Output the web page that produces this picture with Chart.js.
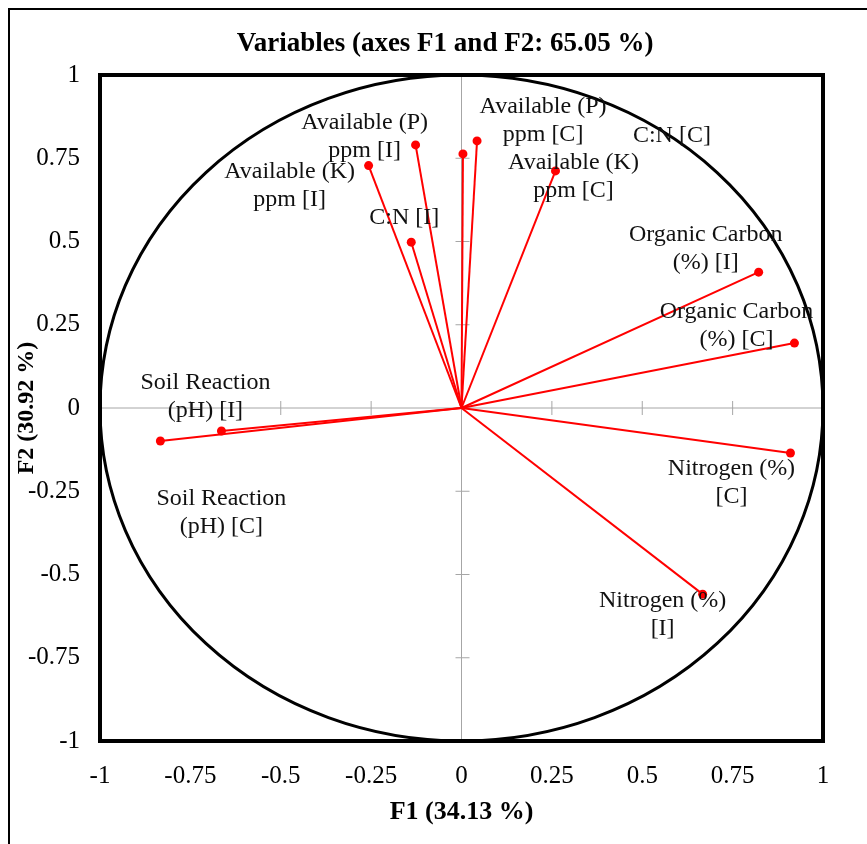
<!DOCTYPE html>
<html>
<head>
<meta charset="utf-8">
<script src="https://cdn.jsdelivr.net/npm/chart.js@4.4.1/dist/chart.umd.min.js"></script>
<style>
html, body { margin: 0; padding: 0; background: #fff; }
#wrap { width: 867px; height: 844px; position: relative; }
</style>
</head>
<body>
<div id="wrap"><canvas id="pca" width="867" height="844"></canvas></div>
<script>
// Variables du cercle des corrélations (F1 / F2)
const varNames = [
    'Available (P) ppm [I]', 'Available (K) ppm [I]', 'C:N [I]',
    'Available (P) ppm [C]', 'C:N [C]', 'Available (K) ppm [C]',
    'Organic Carbon (%) [I]', 'Organic Carbon (%) [C]',
    'Soil Reaction (pH) [I]', 'Soil Reaction (pH) [C]',
    'Nitrogen (%) [C]', 'Nitrogen (%) [I]'
];
const f1Values = [-0.127, -0.257, -0.139, 0.043, 0.004, 0.260, 0.822, 0.921, -0.664, -0.833, 0.910, 0.667];
const f2Values = [0.790, 0.728, 0.498, 0.802, 0.763, 0.712, 0.408, 0.195, -0.069, -0.099, -0.135, -0.559];

// Texte des étiquettes (une ligne par élément)
const labelLines = [
    ['Available (P)', 'ppm [I]'], ['Available (K)', 'ppm [I]'], ['C:N [I]'],
    ['Available (P)', 'ppm [C]'], ['C:N [C]'], ['Available (K)', 'ppm [C]'],
    ['Organic Carbon', '(%) [I]'], ['Organic Carbon', '(%) [C]'],
    ['Soil Reaction', '(pH) [I]'], ['Soil Reaction', '(pH) [C]'],
    ['Nitrogen (%)', '[C]'], ['Nitrogen (%)', '[I]']
];

const axisMin = -1;
const axisMax = 1;
const tickStep = 0.25;

// Décalage (px) du centre de la première ligne par rapport au point
const labelOffsets = [
    [-51, -22], [-79, 6], [-7, -24],
    [66, -34], [209, -18], [18, -8],
    [-53, -37], [-58, -31],
    [-16, -48], [61, 58],
    [-59, 16], [-40, 7]
];

const serif = '"Liberation Serif", "Times New Roman", serif';

// Plugin: cadre, cercle, axes zéro, titre et étiquettes
const decorPlugin = {
    id: 'decor',
    beforeDatasetsDraw(chart) {
        const { ctx, scales: { x, y } } = chart;
        const x0 = x.getPixelForValue(0);
        const y0 = y.getPixelForValue(0);
        ctx.save();
        // axes zéro
        ctx.strokeStyle = '#a6a6a6';
        ctx.lineWidth = 1;
        ctx.beginPath();
        ctx.moveTo(x.getPixelForValue(axisMin), y0);
        ctx.lineTo(x.getPixelForValue(axisMax), y0);
        ctx.moveTo(x0, y.getPixelForValue(axisMin));
        ctx.lineTo(x0, y.getPixelForValue(axisMax));
        for (let v = axisMin + tickStep; v < axisMax; v += tickStep) {
            const px = x.getPixelForValue(v);
            ctx.moveTo(px, y0 - 7);
            ctx.lineTo(px, y0 + 7);
            const py = y.getPixelForValue(v);
            ctx.moveTo(x0 - 6, py);
            ctx.lineTo(x0 + 8, py);
        }
        ctx.stroke();
        // cercle unité
        ctx.strokeStyle = '#000';
        ctx.lineWidth = 3;
        ctx.beginPath();
        ctx.ellipse(x0, y0, x.getPixelForValue(1) - x0, y0 - y.getPixelForValue(1), 0, 0, Math.PI * 2);
        ctx.stroke();
        ctx.restore();
    },
    afterDraw(chart) {
        const { ctx, chartArea: a, scales: { x, y } } = chart;
        ctx.save();
        // étiquettes des variables
        ctx.fillStyle = '#111';
        ctx.font = '24px ' + serif;
        ctx.textAlign = 'center';
        ctx.textBaseline = 'middle';
        f1Values.forEach((v, i) => {
            const px = x.getPixelForValue(v) + labelOffsets[i][0];
            const py = y.getPixelForValue(f2Values[i]) + labelOffsets[i][1];
            labelLines[i].forEach((t, k) => ctx.fillText(t, px, py + k * 28));
        });
        // cadre de la zone de tracé
        ctx.strokeStyle = '#000';
        ctx.lineWidth = 4;
        ctx.strokeRect(a.left, a.top, a.right - a.left, a.bottom - a.top);
        // cadre extérieur
        ctx.lineWidth = 2;
        ctx.beginPath();
        ctx.moveTo(9, 844);
        ctx.lineTo(9, 9);
        ctx.lineTo(867, 9);
        ctx.stroke();
        // titre
        ctx.fillStyle = '#000';
        ctx.font = 'bold 27px ' + serif;
        ctx.fillText('Variables (axes F1 and F2: 65.05 %)', 445, 44);
        ctx.restore();
    }
};

const datasets = f1Values.map((v, i) => ({
    label: varNames[i],
    data: [{ x: 0, y: 0 }, { x: v, y: f2Values[i] }],
    showLine: true,
    borderColor: '#ff0000',
    borderWidth: 2,
    backgroundColor: '#ff0000',
    pointBackgroundColor: '#ff0000',
    pointBorderWidth: 0,
    pointRadius: (c) => c.dataIndex === 0 ? 0 : 4.5,
    pointHoverRadius: 0
}));

const axisCommon = {
    type: 'linear',
    min: axisMin,
    max: axisMax,
    grid: { display: false, drawTicks: false },
    border: { display: false }
};

new Chart(document.getElementById('pca'), {
    type: 'scatter',
    data: { datasets },
    options: {
        responsive: false,
        animation: false,
        devicePixelRatio: 1,
        layout: { padding: { top: 75, right: 44, bottom: 0, left: 0 } },
        plugins: {
            legend: { display: false },
            tooltip: { enabled: false },
            title: { display: false }
        },
        scales: {
            x: {
                ...axisCommon,
                ticks: {
                    stepSize: tickStep,
                    color: '#000',
                    font: { family: serif, size: 25 },
                    padding: 20,
                    callback: (v) => String(v)
                },
                title: {
                    display: true,
                    text: 'F1 (34.13 %)',
                    color: '#000',
                    font: { family: serif, size: 26, weight: 'bold' },
                    padding: { top: 0, bottom: 16 }
                },
                afterFit: (s) => { s.height = 103; }
            },
            y: {
                ...axisCommon,
                ticks: {
                    stepSize: tickStep,
                    color: '#000',
                    font: { family: serif, size: 25 },
                    padding: 20,
                    callback: (v) => String(v)
                },
                title: {
                    display: true,
                    text: 'F2 (30.92 %)',
                    color: '#000',
                    font: { family: serif, size: 24, weight: 'bold' },
                    padding: { top: 12, bottom: 0 }
                },
                afterFit: (s) => { s.width = 100; }
            }
        }
    },
    plugins: [decorPlugin]
});
</script>
</body>
</html>
